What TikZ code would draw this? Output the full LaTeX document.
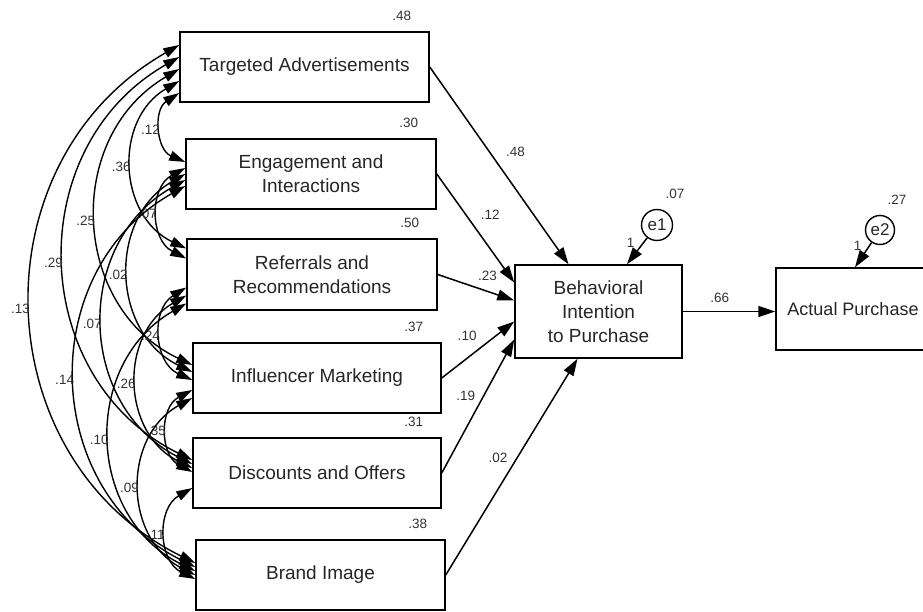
\documentclass[tikz,border=0pt]{standalone}
\usepackage{fontspec}
\setmainfont{Liberation Sans}
\usetikzlibrary{arrows.meta,positioning}

\begin{document}
\begin{tikzpicture}[x=1pt,y=-1pt,
obs/.style={draw,line width=1.5pt,fill=white,text=black!85,minimum width=249pt,minimum height=70pt,align=center,inner sep=0pt,font=\fontsize{19}{24}\selectfont},
err/.style={draw,circle,line width=1.4pt,text=black!85,minimum size=31pt,inner sep=0pt,font=\fontsize{17}{18}\selectfont},
lbl/.style={text=black!80,inner sep=1pt,font=\fontsize{13.5}{15}\selectfont},
reg/.style={line width=1.5pt,-{Triangle[length=17pt,width=11pt]}},
cov/.style={line width=1.4pt,{Triangle[length=16pt,width=10pt]}-{Triangle[length=16pt,width=10pt]},bend right=62,looseness=1.16}]
\useasboundingbox (0,0) rectangle (923,612);

% observed variables
\node[obs] (adv) at (304.5,67) {Targeted Advertisements};
\node[obs,minimum width=250pt] (eng) at (311,174) {Engagement and\\Interactions};
\node[obs,minimum width=250pt,minimum height=71pt] (ref) at (312,274.5) {Referrals and\\Recommendations};
\node[obs,minimum width=248pt] (inf) at (317,378) {Influencer Marketing};
\node[obs,minimum width=248pt] (disc) at (317,473) {Discounts and Offers};
\node[obs] (brand) at (320.5,575) {Brand Image};
\node[obs,minimum width=167pt,minimum height=93pt] (intent) at (598.5,311.5) {Behavioral\\Intention\\to Purchase};
\node[obs,minimum width=154pt,minimum height=82pt,font=\fontsize{18}{22}\selectfont] (purch) at (853,309) {Actual Purchase};
\node[err] (e1) at (657,225) {e1};
\node[err,minimum size=29pt] (e2) at (880,230) {e2};

% variances
\node[lbl] (v-adv) at ([xshift=-28pt,yshift=15pt]adv.north east) {.48};
\node[lbl] (v-eng) at ([xshift=-28pt,yshift=15pt]eng.north east) {.30};
\node[lbl] (v-ref) at ([xshift=-28pt,yshift=15pt]ref.north east) {.50};
\node[lbl] (v-inf) at ([xshift=-28pt,yshift=15pt]inf.north east) {.37};
\node[lbl] (v-disc) at ([xshift=-28pt,yshift=15pt]disc.north east) {.31};
\node[lbl] (v-brand) at ([xshift=-28pt,yshift=15pt]brand.north east) {.38};
\node[lbl] (v-e1) at ([xshift=18pt,yshift=31pt]e1.center) {.07};
\node[lbl] (v-e2) at ([xshift=17pt,yshift=30pt]e2.center) {.27};

% covariances
\draw[cov] ([yshift=-26pt]adv.west) to node[lbl,left]{.12} ([yshift=12pt]eng.west);
\draw[cov] ([yshift=-14pt]adv.west) to node[lbl,left]{.36} ([yshift=26pt]ref.west);
\draw[cov] ([yshift=-2pt]adv.west) to node[lbl,left]{.25} ([yshift=13pt]inf.west);
\draw[cov] ([yshift=10pt]adv.west) to node[lbl,left]{.29} ([yshift=13pt]disc.west);
\draw[cov] ([yshift=22pt]adv.west) to node[lbl,left]{.13} ([yshift=12pt]brand.west);
\draw[cov] ([yshift=6pt]eng.west) to node[lbl,left]{.07} ([yshift=16pt]ref.west);
\draw[cov] (eng.west) to node[lbl,left]{.02} ([yshift=6pt]inf.west);
\draw[cov] ([yshift=-6pt]eng.west) to node[lbl,left]{.07} ([yshift=9pt]disc.west);
\draw[cov] ([yshift=-12pt]eng.west) to node[lbl,left]{.14} ([yshift=8pt]brand.west);
\draw[cov] ([yshift=-13pt]ref.west) to node[lbl,left]{.24} ([yshift=-2pt]inf.west);
\draw[cov] ([yshift=-21pt]ref.west) to node[lbl,left]{.26} ([yshift=5pt]disc.west);
\draw[cov] ([yshift=-29pt]ref.west) to node[lbl,left]{.10} ([yshift=4pt]brand.west);
\draw[cov] ([yshift=-12pt]inf.west) to node[lbl,left]{.35} ([yshift=1pt]disc.west);
\draw[cov] ([yshift=-20pt]inf.west) to node[lbl,left]{.09} (brand.west);
\draw[cov] ([yshift=-15pt]disc.west) to node[lbl,left]{.11} ([yshift=-4pt]brand.west);

% regression paths
\draw[reg] (adv.east) -- node[lbl,pos=.43,xshift=26pt]{.48} ([xshift=-30pt]intent.north);
\draw[reg] (eng.east) -- node[lbl,pos=.38,xshift=24pt]{.12} ([yshift=29pt]intent.west);
\draw[reg] (ref.east) -- node[lbl,pos=.65,yshift=16pt]{.23} ([yshift=11pt]intent.west);
\draw[reg] (inf.east) -- node[lbl,pos=.35,yshift=22pt]{.10} ([yshift=-10pt]intent.west);
\draw[reg] (disc.east) -- node[lbl,pos=.58,xshift=-18pt]{.19} ([yshift=-28pt]intent.west);
\draw[reg] (brand.east) -- node[lbl,pos=.54,xshift=-19pt]{.02} ([xshift=-21pt]intent.south);
\draw[reg] (intent.east) -- node[lbl,pos=.4,yshift=14pt]{.66} (intent.east -| purch.west);
\draw[reg] (e1) -- node[lbl,pos=.2,left=7pt]{1} ([xshift=28.5pt]intent.north);
\draw[reg] (e2) -- node[lbl,pos=.15,left=6pt]{1} ([xshift=2pt]purch.north);
\end{tikzpicture}
\end{document}
